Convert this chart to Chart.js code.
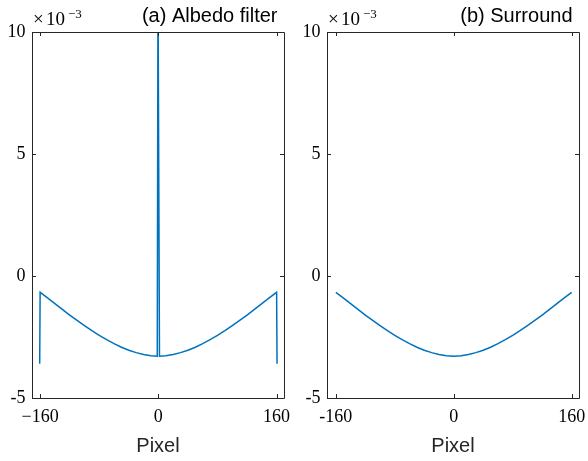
<!DOCTYPE html>
<html>
<head>
<meta charset="utf-8">
<script src="https://cdn.jsdelivr.net/npm/chart.js@4/dist/chart.umd.min.js"></script>
<style>
  body { margin: 0; background: #fff; }
  .panel { position: absolute; top: 0; width: 294px; height: 461px; }
</style>
</head>
<body>
<div class="panel" style="left:0"><canvas id="albedo" width="294" height="461"></canvas></div>
<div class="panel" style="left:294px"><canvas id="surround" width="294" height="461"></canvas></div>
<script>
// values are x10^-3
const albedoX = [-160.6, -160, -150, -140, -130, -120, -110, -100, -90, -80, -70, -60, -50, -40, -30, -20, -10, -1.5, -0.5, 0.5, 1.5,
    10, 20, 30, 40, 50, 60, 70, 80, 90, 100, 110, 120, 130, 140, 150, 160, 160.6]
const albedoY = [-3.60, -0.67, -0.90, -1.13, -1.37, -1.60, -1.82, -2.03, -2.24, -2.43, -2.61, -2.77, -2.92, -3.04, -3.14, -3.22, -3.27, -3.29, 12, 12, -3.29,
    -3.27, -3.22, -3.14, -3.04, -2.92, -2.77, -2.61, -2.43, -2.24, -2.03, -1.82, -1.60, -1.37, -1.13, -0.90, -0.67, -3.60]
const surroundX = [-160, -150, -140, -130, -120, -110, -100, -90, -80, -70, -60, -50, -40, -30, -20, -10, 0,
    10, 20, 30, 40, 50, 60, 70, 80, 90, 100, 110, 120, 130, 140, 150, 160]
const surroundY = [-0.67, -0.90, -1.13, -1.37, -1.60, -1.82, -2.03, -2.24, -2.43, -2.61, -2.77, -2.92, -3.04, -3.14, -3.22, -3.27, -3.29,
    -3.27, -3.22, -3.14, -3.04, -2.92, -2.77, -2.61, -2.43, -2.24, -2.03, -1.82, -1.60, -1.37, -1.13, -0.90, -0.67]
const xTicks = [-160, 0, 160]
const yTicks = [-5, 0, 5, 10]

const axisColor = '#262626'
const lineColor = '#0072BD'

// box with inward ticks, exponent and title, matlab style
const boxPlugin = {
    id: 'box',
    afterDatasetsDraw(chart, args, opts) {
        const ctx = chart.ctx
        const a = chart.chartArea
        const sx = chart.scales.x
        const sy = chart.scales.y
        ctx.save()
        ctx.strokeStyle = axisColor
        ctx.lineWidth = 1
        ctx.beginPath()
        ctx.rect(Math.round(a.left) + 0.5, Math.round(a.top) + 0.5, Math.round(a.right - a.left), Math.round(a.bottom - a.top))
        xTicks.forEach(t => {
            let px = Math.round(sx.getPixelForValue(t)) + 0.5
            ctx.moveTo(px, a.bottom); ctx.lineTo(px, a.bottom - 4)
            ctx.moveTo(px, a.top); ctx.lineTo(px, a.top + 4)
        })
        yTicks.forEach(t => {
            let py = Math.round(sy.getPixelForValue(t)) + 0.5
            ctx.moveTo(a.left, py); ctx.lineTo(a.left + 4, py)
            ctx.moveTo(a.right, py); ctx.lineTo(a.right - 4, py)
        })
        ctx.stroke()

        ctx.fillStyle = '#000'
        ctx.textBaseline = 'alphabetic'
        ctx.textAlign = 'left'
        ctx.font = '19px "Liberation Serif"'
        ctx.fillText('\u00d7', a.left + 1, 25)
        ctx.fillText('10', a.left + 14, 25)
        ctx.font = '13px "Liberation Serif"'
        ctx.fillText('\u22123', a.left + 36, 18)

        ctx.font = '20px "Liberation Sans"'
        ctx.textAlign = 'right'
        ctx.fillText(opts.title, a.right - 6.5, 22)
        ctx.restore()
    }
}

function makeChart(id, xs, ys, xmin, xmax, yWidth, padRight, title, minusSign) {
    const points = xs.map((x, i) => ({ x: x, y: ys[i] }))
    return new Chart(document.getElementById(id), {
        type: 'line',
        data: {
            datasets: [{
                data: points,
                borderColor: lineColor,
                borderWidth: 1.5,
                pointRadius: 0,
                tension: 0,
                fill: false
            }]
        },
        options: {
            responsive: false,
            animation: false,
            layout: { padding: { left: 0, right: padRight, top: 32, bottom: 0 } },
            plugins: {
                legend: { display: false },
                tooltip: { enabled: false },
                box: { title: title }
            },
            scales: {
                x: {
                    type: 'linear',
                    min: xmin,
                    max: xmax,
                    afterBuildTicks: s => { s.ticks = xTicks.map(v => ({ value: v })) },
                    afterFit: s => { s.height = 63; s.paddingLeft = 0; s.paddingRight = 0 },
                    grid: { display: false, drawTicks: false },
                    border: { display: false },
                    ticks: {
                        padding: 8,
                        maxRotation: 0,
                        color: '#000',
                        font: { family: 'Liberation Serif', size: 18 },
                        callback: v => v < 0 ? minusSign + Math.abs(v) : String(v)
                    },
                    title: {
                        display: true,
                        text: 'Pixel',
                        color: '#262626',
                        font: { family: 'Liberation Sans', size: 20 },
                        padding: { top: 0, bottom: 3 }
                    }
                },
                y: {
                    min: -5,
                    max: 10,
                    afterBuildTicks: s => { s.ticks = yTicks.map(v => ({ value: v })) },
                    afterFit: s => { s.width = yWidth; s.paddingTop = 0; s.paddingBottom = 0 },
                    grid: { display: false, drawTicks: false },
                    border: { display: false },
                    ticks: {
                        padding: 6.5,
                        color: '#000',
                        font: { family: 'Liberation Serif', size: 18 },
                        callback: v => String(v)
                    }
                }
            }
        },
        plugins: [boxPlugin]
    })
}

makeChart('albedo', albedoX, albedoY, -171, 170, 32, 10, '(a) Albedo filter', '\u2212')
makeChart('surround', surroundX, surroundY, -172, 170, 33, 9, '(b) Surround', '-')
</script>
</body>
</html>
